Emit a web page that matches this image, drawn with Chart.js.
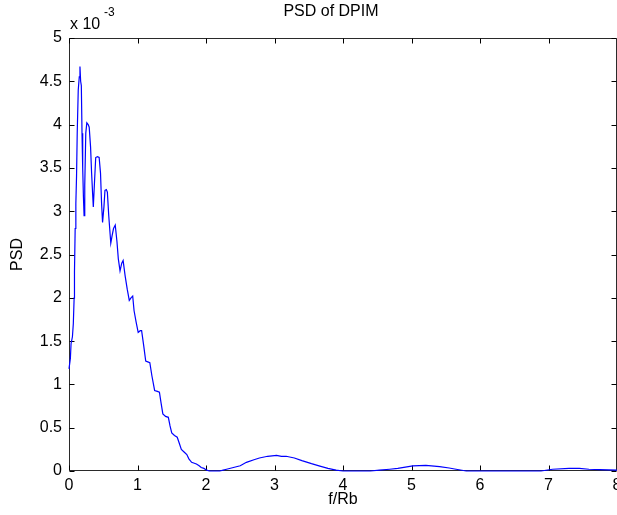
<!DOCTYPE html>
<html>
<head>
<meta charset="utf-8">
<script src="https://cdn.jsdelivr.net/npm/chart.js@4.4.1/dist/chart.umd.min.js"></script>
<style>
  html, body { margin: 0; padding: 0; background: #ffffff; }
  #wrap { width: 617px; height: 515px; }
</style>
</head>
<body>
<div id="wrap"><canvas id="c" width="617" height="515"></canvas></div>
<script>
// ---- data (PSD values in units of 10^-3) ----
const freq = [0.00,0.02,0.03,0.05,0.063,0.075,0.08,0.09,0.10,0.11,0.12,0.135,0.15,0.16,0.17,0.18,0.19,0.20,0.21,0.22,
  0.23,0.245,0.26,0.28,0.295,0.315,0.33,0.345,0.355,0.37,0.39,0.415,0.44,0.46,0.475,0.49,0.51,0.525,0.545,0.56,
  0.58,0.61,0.63,0.65,0.675,0.70,0.72,0.745,0.77,0.79,0.82,0.85,0.88,0.905,0.93,0.95,0.98,1.01,1.04,1.06,
  1.09,1.12,1.15,1.18,1.21,1.25,1.29,1.32,1.345,1.37,1.41,1.45,1.475,1.50,1.54,1.58,1.61,1.64,1.68,1.72,
  1.75,1.79,1.83,1.86,1.90,1.93,1.97,2.01,2.05,2.15,2.20,2.25,2.30,2.40,2.50,2.59,2.70,2.78,2.90,3.03,
  3.10,3.17,3.29,3.40,3.54,3.65,3.78,3.90,4.00,4.20,4.40,4.53,4.68,4.80,5.02,5.21,5.41,5.55,5.65,5.80,
  6.00,6.50,6.89,7.06,7.30,7.45,7.59,7.75,8.00];
const psd = [1.18,1.30,1.47,1.55,1.70,2.00,2.30,2.80,3.09,3.40,3.90,4.40,4.55,4.67,4.50,4.45,3.90,3.50,3.18,2.95,
  3.30,3.90,4.02,4.00,3.97,3.74,3.44,3.20,3.05,3.30,3.62,3.63,3.62,3.44,3.10,2.87,3.05,3.24,3.25,3.22,
  2.95,2.63,2.72,2.80,2.84,2.65,2.45,2.31,2.40,2.43,2.25,2.10,1.97,2.00,2.02,1.85,1.72,1.60,1.62,1.62,
  1.45,1.27,1.26,1.25,1.10,0.93,0.92,0.91,0.78,0.66,0.63,0.62,0.52,0.44,0.41,0.39,0.32,0.25,0.22,0.19,
  0.14,0.10,0.09,0.08,0.06,0.04,0.03,0.01,0.00,0.00,0.00,0.01,0.02,0.04,0.06,0.10,0.13,0.15,0.17,0.18,
  0.17,0.17,0.15,0.12,0.085,0.06,0.03,0.01,0.00,0.00,0.00,0.01,0.02,0.03,0.06,0.065,0.05,0.035,0.02,0.00,
  0.00,0.00,0.00,0.02,0.03,0.03,0.02,0.015,0.01];
const xTickLabels = ['0','1','2','3','4','5','6','7','8'];
const yTickLabels = ['0','0.5','1','1.5','2','2.5','3','3.5','4','4.5','5'];
const titleText = 'PSD of DPIM';
const xLabel = 'f/Rb';
const yLabel = 'PSD';

const FONT = 'Liberation Sans, Arial, Helvetica, sans-serif';
const points = freq.map((f, i) => ({x: f, y: psd[i]}));

const boxPlugin = {
  id: 'matlabBox',
  beforeDatasetsDraw(chart) {
    const {ctx, chartArea: a, scales: {x, y}} = chart;
    ctx.save();
    ctx.strokeStyle = '#2a2a2a';
    ctx.lineWidth = 1;
    const L = Math.round(a.left) + 0.5, R = Math.round(a.right) - 0.5;
    const T = Math.round(a.top) + 0.5, B = Math.round(a.bottom) - 0.5;
    ctx.beginPath();
    ctx.moveTo(L, T); ctx.lineTo(R, T); ctx.lineTo(R, B); ctx.lineTo(L, B); ctx.closePath();
    ctx.stroke();
    const tl = 5;
    ctx.strokeStyle = '#000';
    ctx.beginPath();
    x.ticks.forEach(t => {
      const px = Math.round(x.getPixelForValue(t.value)) + 0.5;
      ctx.moveTo(px, B); ctx.lineTo(px, B - tl);
      ctx.moveTo(px, T); ctx.lineTo(px, T + tl);
    });
    y.ticks.forEach(t => {
      const py = Math.round(y.getPixelForValue(t.value)) + 0.5;
      ctx.moveTo(L, py); ctx.lineTo(L + tl, py);
      ctx.moveTo(R, py); ctx.lineTo(R - tl, py);
    });
    ctx.stroke();
    ctx.restore();
  },
  afterDraw(chart) {
    const ctx = chart.ctx;
    ctx.save();
    ctx.fillStyle = '#000';
    ctx.textBaseline = 'middle';
    ctx.textAlign = 'center';
    ctx.font = '16px ' + FONT;
    ctx.fillText(titleText, 331, 12);
    ctx.textAlign = 'left';
    ctx.fillText('x 10', 70, 25);
    ctx.font = '12px ' + FONT;
    ctx.fillText('-3', 104, 13);
    ctx.restore();
  }
};

new Chart(document.getElementById('c'), {
  type: 'line',
  data: {
    datasets: [{
      data: points,
      borderColor: '#0000ff',
      borderWidth: 1.2,
      pointRadius: 0,
      tension: 0,
      fill: false,
      clip: 3
    }]
  },
  options: {
    responsive: false,
    animation: false,
    events: [],
    layout: { padding: { left: 0, right: 0, top: 38, bottom: 0 } },
    plugins: { legend: { display: false }, tooltip: { enabled: false }, title: { display: false } },
    scales: {
      x: {
        type: 'linear', min: 0, max: 8,
        border: { display: false },
        grid: { display: false, drawTicks: false },
        ticks: {
          stepSize: 1, padding: 5, color: '#000', maxRotation: 0,
          font: { family: FONT, size: 16 },
          callback: (v) => xTickLabels[Math.round(v)]
        },
        title: { display: true, text: xLabel, color: '#000', font: { family: FONT, size: 16 }, padding: { top: 0, bottom: 6 } },
        afterFit: (s) => { s.height = 44; s.paddingLeft = 0; s.paddingRight = 0; }
      },
      y: {
        type: 'linear', min: 0, max: 5,
        border: { display: false },
        grid: { display: false, drawTicks: false },
        ticks: {
          stepSize: 0.5, padding: 7, color: '#000',
          font: { family: FONT, size: 16 },
          callback: (v) => yTickLabels[Math.round(v * 2)]
        },
        title: { display: true, text: yLabel, color: '#000', font: { family: FONT, size: 16 }, padding: { top: 8, bottom: 0 } },
        afterFit: (s) => { s.width = 69; s.paddingTop = 0; s.paddingBottom = 0; }
      }
    }
  },
  plugins: [boxPlugin]
});
</script>
</body>
</html>
